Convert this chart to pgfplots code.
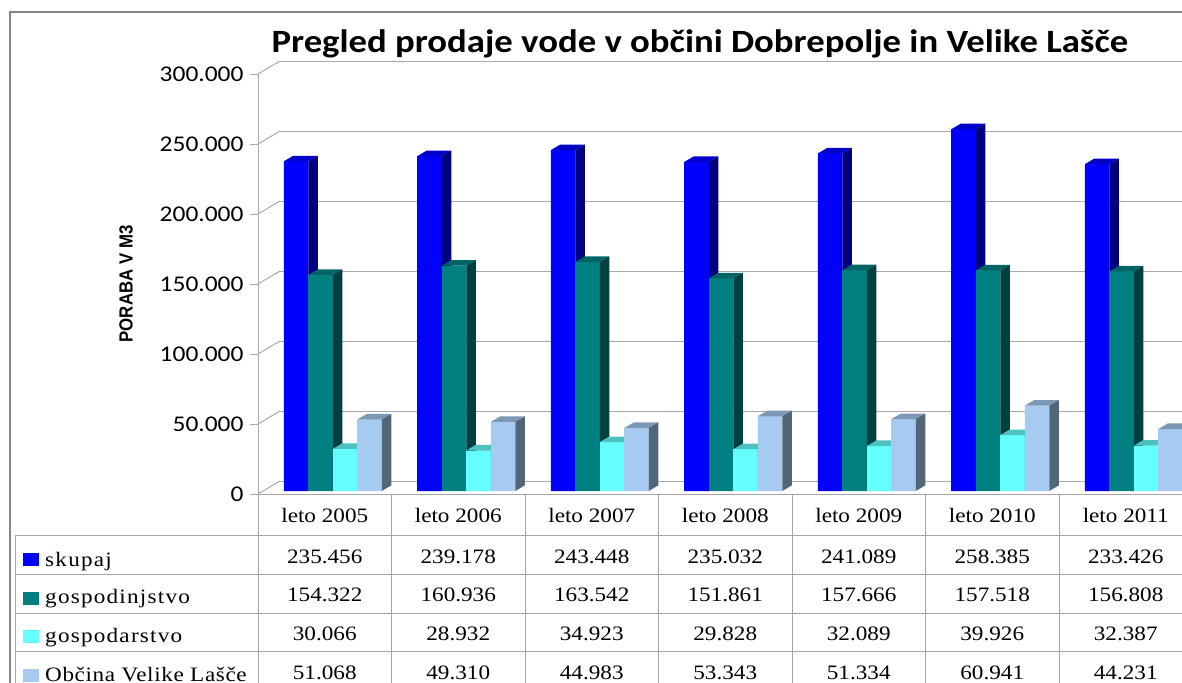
\documentclass[border=0pt]{standalone}
\usepackage{fontspec}
\usepackage{pgfplots}
\usepackage{pgfplotstable}
\pgfplotsset{compat=1.18}
\newfontfamily\titlefont[FakeStretch=1.13]{Carlito}
\newfontfamily\tickfont[FakeStretch=1.13]{Carlito}
\newfontfamily\labfont[FakeStretch=0.885]{Liberation Sans}
\newfontfamily\tabfont[FakeStretch=1.13]{Liberation Serif}
\newfontfamily\legfont[FakeStretch=1.13,LetterSpace=6]{Liberation Serif}
\newfontfamily\legfontb[FakeStretch=1.13,LetterSpace=3]{Liberation Serif}

\definecolor{bfront}{RGB}{0,0,255}
\definecolor{bside}{RGB}{0,0,128}
\definecolor{btop}{RGB}{0,0,200}
\definecolor{tfront}{RGB}{0,128,128}
\definecolor{tside}{RGB}{0,64,64}
\definecolor{ttop}{RGB}{0,100,100}
\definecolor{cfront}{RGB}{102,255,255}
\definecolor{cside}{RGB}{51,128,128}
\definecolor{ctop}{RGB}{77,192,192}
\definecolor{lfront}{RGB}{166,202,240}
\definecolor{lside}{RGB}{83,101,120}
\definecolor{ltop}{RGB}{125,152,180}
\definecolor{gridc}{RGB}{170,170,170}
\definecolor{tabc}{RGB}{165,165,165}
\definecolor{borderc}{RGB}{134,134,134}

\pgfplotstableread{
x skupaj gospodinj gospodar velike
0 235.456 154.322 30.066 51.068
1 239.178 160.936 28.932 49.310
2 243.448 163.542 34.923 44.983
3 235.032 151.861 29.828 53.343
4 241.089 157.666 32.089 51.334
5 258.385 157.518 39.926 60.941
6 233.426 156.808 32.387 44.231
}\datatab

% draws front, top and side faces of one 3D bar; origin = (category, value)
\newcommand\drawfaces[4]{%
 \pgfmathsetmacro\bh{\rawy*1.4}%
 \pgfmathsetmacro\xl{#1-12.25}%
 \pgfmathsetmacro\xr{#1+12.25}%
 \pgfmathsetmacro\xlb{\xl+9.5}%
 \pgfmathsetmacro\xrb{\xr+9.5}%
 \pgfmathsetmacro\yb{5.6-\bh}%
 \pgfsetfillcolor{#4}%
 \pgfpathrectanglecorners{\pgfqpoint{\xl pt}{0pt}}{\pgfqpoint{\xr pt}{-\bh pt}}%
 \pgfusepath{fill}%
 \pgfsetfillcolor{#3}%
 \pgfpathmoveto{\pgfqpoint{\xl pt}{0pt}}%
 \pgfpathlineto{\pgfqpoint{\xr pt}{0pt}}%
 \pgfpathlineto{\pgfqpoint{\xrb pt}{5.6pt}}%
 \pgfpathlineto{\pgfqpoint{\xlb pt}{5.6pt}}%
 \pgfpathclose
 \pgfusepath{fill}%
 \pgfsetfillcolor{#2}%
 \pgfpathmoveto{\pgfqpoint{\xr pt}{0pt}}%
 \pgfpathlineto{\pgfqpoint{\xrb pt}{5.6pt}}%
 \pgfpathlineto{\pgfqpoint{\xrb pt}{\yb pt}}%
 \pgfpathlineto{\pgfqpoint{\xr pt}{-\bh pt}}%
 \pgfpathclose
 \pgfusepath{fill}%
}
\pgfdeclareplotmark{faceA}{\drawfaces{-36.75}{bside}{btop}{bfront}}
\pgfdeclareplotmark{faceB}{\drawfaces{-12.25}{tside}{ttop}{tfront}}
\pgfdeclareplotmark{faceC}{\drawfaces{12.25}{cside}{ctop}{cfront}}
\pgfdeclareplotmark{faceD}{\drawfaces{36.75}{lside}{ltop}{lfront}}

\pgfplotsset{
  common/.style={scale only axis, width=934.5pt, height=420pt,
    xmin=-0.5, xmax=6.5, ymin=0, ymax=300, anchor=south west},
  barplot/.style n args={2}{ybar, bar width=24.5pt, bar shift=#1, fill=#2, draw=none},
  faceplot/.style n args={2}{scatter, only marks, mark=#1, point meta=y,
    visualization depends on={\thisrow{#2}\as\rawy}},
}

\begin{document}
\begin{tikzpicture}[x=1pt,y=1pt]
% outer border
\draw[borderc, line width=1.3pt] (10,-700) -- (10,-12) -- (1200,-12);
% back wall grid
\begin{axis}[common, at={(280pt,-481pt)},
  axis line style={draw=none}, ytick={0,50,...,300}, yticklabels={}, xtick=\empty,
  major tick length=0pt, ymajorgrids, grid style={gridc, line width=1pt}]
\end{axis}
% front axis (left wall edge, ticks)
\begin{axis}[common, at={(258pt,-494pt)},
  axis x line=none, axis y line*=left, clip=false,
  y axis line style={draw=gridc, line width=1pt},
  ytick={0,50,...,300}, yticklabels={0,50.000,100.000,150.000,200.000,250.000,300.000},
  tick align=outside, major tick length=8pt,
  ytick style={draw=gridc, line width=1pt},
  yticklabel style={font=\fontsize{22.5}{24}\tickfont, text=black, xshift=-3pt}]
\pgfplotsinvokeforeach{0,50,100,150,200,250,300}{\draw[gridc, line width=1pt] (axis cs:-0.5,#1) -- ++(22pt,13pt);}
\end{axis}
% bars
\begin{axis}[common, at={(266pt,-491pt)}, hide axis, clip=false]
\addplot[barplot={-36.75pt}{bfront}] table[x=x,y=skupaj]{\datatab};
\addplot[barplot={-12.25pt}{tfront}] table[x=x,y=gospodinj]{\datatab};
\addplot[barplot={12.25pt}{cfront}] table[x=x,y=gospodar]{\datatab};
\addplot[barplot={36.75pt}{lfront}] table[x=x,y=velike]{\datatab};
\addplot[faceplot={faceA}{skupaj}] table[x=x,y=skupaj]{\datatab};
\addplot[faceplot={faceB}{gospodinj}] table[x=x,y=gospodinj]{\datatab};
\addplot[faceplot={faceC}{gospodar}] table[x=x,y=gospodar]{\datatab};
\addplot[faceplot={faceD}{velike}] table[x=x,y=velike]{\datatab};
\end{axis}
% title
\node[anchor=base, font=\fontsize{32.5}{36}\titlefont\bfseries] at (700,-53) {Pregled prodaje vode v občini Dobrepolje in Velike Lašče};
% y label
\node[rotate=90, anchor=center, font=\fontsize{19}{22}\labfont\bfseries] at (126,-284) {PORABA V M3};
% table lines
\draw[tabc, line width=1pt] (258,-494) -- (1200,-494);
\foreach \yy in {535,574,613,651.5} {\draw[tabc, line width=1pt] (15,-\yy) -- (1200,-\yy);}
\draw[tabc, line width=1pt] (15,-535) -- (15,-700);
\foreach \k in {0,...,6} {\draw[tabc, line width=1pt] (258+133.5*\k,-494) -- (258+133.5*\k,-700);}
% header
\foreach \k/\yr in {0/2005,1/2006,2/2007,3/2008,4/2009,5/2010,6/2011}
  {\node[anchor=base, font=\fontsize{20.5}{22}\tabfont, inner sep=0pt] at (258+133.5*\k+66.75,-522) {leto \yr};}
% values
\foreach \col/\r in {skupaj/0,gospodinj/1,gospodar/2,velike/3} {
  \foreach \k in {0,...,6} {
    \pgfplotstablegetelem{\k}{\col}\of\datatab
    \node[anchor=base, font=\fontsize{20.5}{22}\tabfont, inner sep=0pt] at (258+133.5*\k+66.75,-563-38.8*\r) {\pgfplotsretval};
  }
}
% legend
\foreach \c/\r in {bfront/0,tfront/1,cfront/2,lfront/3}
  {\fill[\c] (23,-566-38.5*\r) rectangle (38.5,-553-38.5*\r);}
\node[anchor=base west, font=\fontsize{20.5}{22}\legfont, inner sep=0pt] at (45,-566) {skupaj};
\node[anchor=base west, font=\fontsize{20.5}{22}\legfont, inner sep=0pt] at (45,-603.5) {gospodinjstvo};
\node[anchor=base west, font=\fontsize{20.5}{22}\legfont, inner sep=0pt] at (45,-642) {gospodarstvo};
\node[anchor=base west, font=\fontsize{20.5}{22}\legfontb, inner sep=0pt] at (45,-681) {Občina Velike Lašče};
\pgfresetboundingbox
\useasboundingbox (0,0) rectangle (1182,-682);
\end{tikzpicture}
\end{document}
